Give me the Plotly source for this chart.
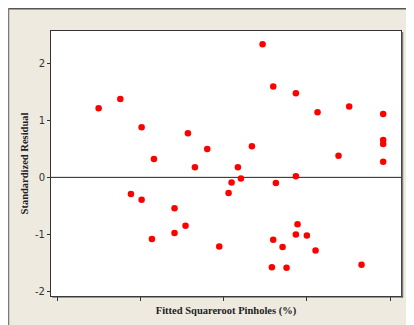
import plotly.graph_objects as go

fitted = [0.50, 0.76, 1.016, 1.164, 0.888, 1.016, 1.14, 1.411, 1.411, 1.543,
          1.572, 1.656, 1.804, 1.948, 2.06, 2.096, 2.172, 2.208, 2.34, 2.468,
          2.596, 2.596, 2.58, 2.628, 2.708, 2.756, 2.868, 2.868, 2.888, 2.868,
          3.0, 3.104, 3.128, 3.38, 3.508, 3.656, 3.916, 3.916, 3.916, 3.916]
residual = [1.21, 1.37, 0.876, 0.32, -0.29, -0.39, -1.08, -0.54, -0.975, -0.846,
            0.77, 0.175, 0.496, -1.21, -0.274, -0.088, 0.175, -0.018, 0.543, 2.33,
            1.59, -1.09, -1.57, -0.10, -1.22, -1.58, 1.47, 0.018, -0.82, -1.00,
            -1.016, -1.28, 1.14, 0.38, 1.24, -1.53, 1.11, 0.654, 0.584, 0.274]
x_ticks = [0, 1, 2, 3, 4]
y_ticks = [-2, -1, 0, 1, 2]
y_tick_labels = ["-2", "-1", "0", "1", "2"]

W, H = 414, 325
L, R, T, B = 43, 21, 23, 37
pw, ph = W - L - R, H - T - B

def px(xp):
    return (xp - L) / pw

def py(yp):
    return (H - B - yp) / ph

fig = go.Figure()
fig.add_trace(go.Scatter(x=fitted, y=residual, mode="markers",
                         marker=dict(color="#FF0000", size=6.5, line=dict(width=0)),
                         showlegend=False, hoverinfo="skip"))

shapes = [
    # figure frame border lines (top, left)
    dict(type="line", xref="paper", yref="paper", x0=px(0), x1=px(W), y0=py(0.75), y1=py(0.75),
         line=dict(color="#555555", width=1.5), layer="above"),
    dict(type="line", xref="paper", yref="paper", x0=px(0), x1=px(0), y0=py(0), y1=py(H),
         line=dict(color="#7a7a7a", width=2.5), layer="above"),
    # plot area shadow on right and bottom
    dict(type="line", xref="paper", yref="paper", x0=px(L + pw + 1.5), x1=px(L + pw + 1.5),
         y0=py(T + 1), y1=py(T + ph + 1.5), line=dict(color="#777777", width=1.5), layer="above"),
    dict(type="line", xref="paper", yref="paper", x0=px(L + 1), x1=px(L + pw + 2),
         y0=py(T + ph + 1), y1=py(T + ph + 1), line=dict(color="#444444", width=1), layer="above"),
    # zero reference line
    dict(type="line", xref="paper", yref="y", x0=0, x1=1, y0=0, y1=0,
         line=dict(color="#222222", width=1), layer="below"),
]

fig.update_layout(
    width=W, height=H,
    margin=dict(l=L, r=R, t=T, b=B, pad=0),
    paper_bgcolor="#EEEAE0",
    plot_bgcolor="white",
    shapes=shapes,
    xaxis=dict(range=[-0.072, 4.13], tickvals=x_ticks, showticklabels=False,
               ticks="outside", ticklen=4, tickcolor="#333333", tickwidth=1,
               showgrid=False, zeroline=False, showline=True, mirror=True,
               linecolor="#333333", linewidth=1, automargin=False,
               title=dict(text="<b>Fitted Squareroot Pinholes (%)</b>",
                          font=dict(family="Liberation Serif", size=10.5, color="#222222"),
                          standoff=6)),
    yaxis=dict(range=[-2.075, 2.56], tickvals=y_ticks, ticktext=y_tick_labels,
               ticks="outside", ticklen=3, tickcolor="#333333", tickwidth=1,
               tickfont=dict(family="DejaVu Sans", size=10, color="#333333"),
               showgrid=False, zeroline=False, showline=True, mirror=True,
               linecolor="#333333", linewidth=1, automargin=False,
               title=dict(text="<b>Standardized Residual</b>",
                          font=dict(family="Liberation Serif", size=10.5, color="#222222"),
                          standoff=4)),
)

fig.write_html("out.html")
